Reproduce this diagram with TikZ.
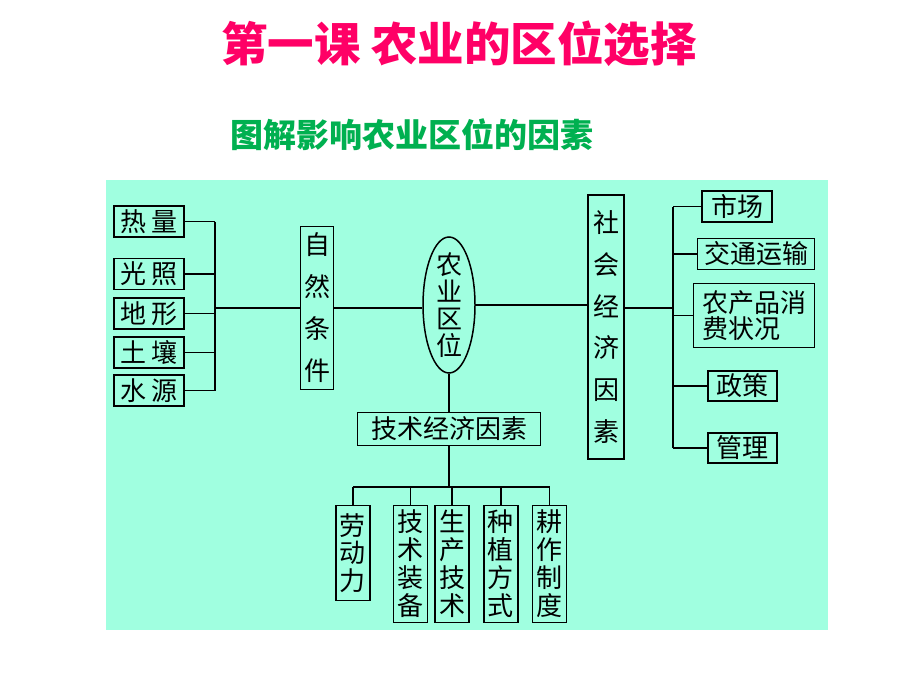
\documentclass[tikz,border=0pt]{standalone}
\usepackage{fontspec}
\usepackage{tikz}
\newfontfamily\cjk{Noto Sans CJK SC}
\usetikzlibrary{positioning,shapes.geometric}
\definecolor{panel}{RGB}{160,255,224}
\definecolor{titlered}{RGB}{255,0,102}
\definecolor{subgreen}{RGB}{0,176,80}
\tikzset{box/.style={draw, line width=1.5pt, inner sep=0pt, font=\cjk\fontsize{26}{28}\selectfont},
	tall/.style={box, align=center, minimum width=34pt}}

\begin{document}
\begin{tikzpicture}[x=1pt,y=-1pt, line width=1.5pt]
	\useasboundingbox (0,0) rectangle (920,690);
	\fill [panel] (106,180) rectangle (828,630);

	\node (H1) [titlered, font=\cjk\bfseries\fontsize{46.5}{46.5}\selectfont] at (459,44) {第一课 农业的区位选择};
	\node (H2) [subgreen, font=\cjk\bfseries\fontsize{33}{33}\selectfont] at (412,135) {图解影响农业区位的因素};

	\node (L1) [box, minimum width=70pt, minimum height=31pt] at (149,221.5) {热\,量};
	\node (L2) [box, minimum width=70pt, minimum height=31pt] at (149,274) {光\,照};
	\node (L3) [box, minimum width=70pt, minimum height=31pt] at (149,313.5) {地\,形};
	\node (L4) [box, minimum width=70pt, minimum height=31pt] at (149,352.5) {土\,壤};
	\node (L5) [box, minimum width=70pt, minimum height=31pt] at (149,390.5) {水\,源};
	\coordinate (lb) at (215,308);

	\node (N) [tall, minimum width=33pt, minimum height=163pt, font=\cjk\fontsize{26}{42}\selectfont] at (317,308) {自\\然\\条\\件};
	\node (C) [draw, ellipse, minimum width=52pt, minimum height=136pt, inner sep=0pt] at (449,305) {};
	\node (Ct) [font=\cjk\fontsize{26}{27}\selectfont, align=center] at (C) {农\\业\\区\\位};
	\node (S) [tall, minimum width=36pt, minimum height=264pt, font=\cjk\fontsize{26}{41.7}\selectfont] at (606,327) {社\\会\\经\\济\\因\\素};

	\coordinate (rb) at (673,308);
	\node (R1) [box, minimum width=70pt, minimum height=31pt] at (737,206.5) {市场};
	\node (R2) [box, minimum width=117pt, minimum height=31pt] at (756,254) {交通运输};
	\node (R3) [box, minimum width=121pt, minimum height=64pt, align=left, font=\cjk\fontsize{26}{26}\selectfont] at (754,315.7) {农产品消\\费状况};
	\node (R4) [box, minimum width=69pt, minimum height=30pt] at (742.7,386) {政策};
	\node (R5) [box, minimum width=69pt, minimum height=30pt] at (742.7,448) {管理};

	\node (T) [box, minimum width=183pt, minimum height=33pt] at (449,429) {技术经济因素};
	\coordinate (bar) at (449,487);
	\node (B1) [tall, minimum height=95pt, font=\cjk\fontsize{26}{27.5}\selectfont] at (352.8,553) {劳\\动\\力};
	\node (B2) [tall, minimum height=117pt, font=\cjk\fontsize{26}{28}\selectfont] at (410.3,564) {技\\术\\装\\备};
	\node (B3) [tall, minimum height=117pt, font=\cjk\fontsize{26}{28}\selectfont] at (452,564) {生\\产\\技\\术};
	\node (B4) [tall, minimum height=117pt, font=\cjk\fontsize{26}{28}\selectfont] at (500.8,564) {种\\植\\方\\式};
	\node (B5) [tall, minimum height=117pt, font=\cjk\fontsize{26}{28}\selectfont] at (549.5,564) {耕\\作\\制\\度};

	\foreach \n in {L1,L2,L3,L4,L5}
		\draw (\n.east) -- (\n.east -| lb);
	\draw (L1.east -| lb) -- (L5.east -| lb);
	\draw (lb) -- (N.west);
	\draw (N.east) -- (N.east -| C.west);
	\draw (C.east) -- (C.east -| S.west);
	\draw (rb -| S.east) -- (rb);
	\draw (rb |- R1.west) -- (rb |- R5.west);
	\foreach \n in {R1,R2,R3,R4,R5}
		\draw (rb |- \n.west) -- (\n.west);
	\draw (C.south) -- (T.north);
	\draw (T.south) -- (bar);
	\draw (B1.north |- bar) -- (B5.north |- bar);
	\foreach \n in {B1,B2,B3,B4,B5}
		\draw (\n.north |- bar) -- (\n.north);

\end{tikzpicture}
\end{document}
